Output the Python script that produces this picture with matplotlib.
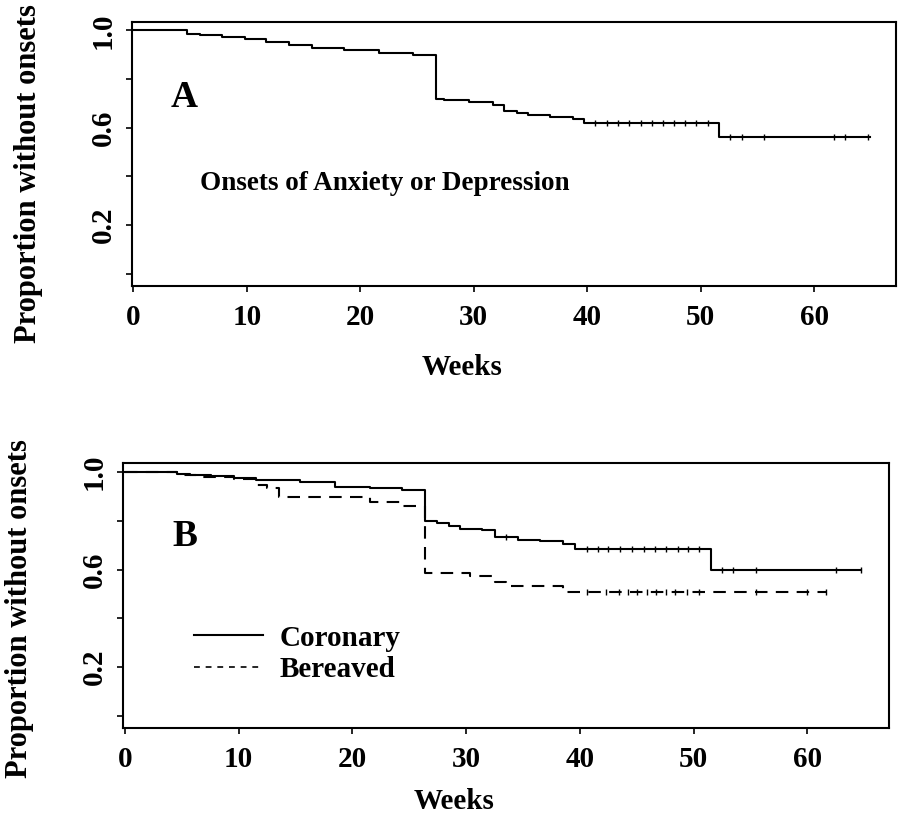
import matplotlib

matplotlib.use("Agg")
import matplotlib.pyplot as plt
import numpy as np
from matplotlib.lines import Line2D

# Panel A: onsets of anxiety or depression (all subjects)
weeks_a = [0, 4.7, 5.9, 7.8, 9.8, 11.7, 13.7, 15.7, 18.6, 21.6, 24.6, 26.65, 27.4,
           29.6, 31.7, 32.7, 33.8, 34.8, 36.7, 38.7, 39.7, 51.6, 64.9]
surv_a = [1.0, 0.986, 0.982, 0.975, 0.964, 0.951, 0.939, 0.930, 0.921, 0.908, 0.900,
          0.720, 0.716, 0.706, 0.693, 0.668, 0.659, 0.652, 0.645, 0.635, 0.620, 0.563, 0.563]
censor_a = [40.7, 41.7, 42.7, 43.7, 44.7, 45.7, 46.7, 47.6, 48.6, 49.6, 50.6,
            52.6, 53.6, 55.6, 61.7, 62.7, 64.7]

# Panel B: coronary vs bereaved
weeks_cor = [0, 4.6, 5.7, 7.6, 9.6, 11.5, 15.4, 18.5, 21.5, 24.4, 26.4, 27.4, 28.5,
             29.5, 31.4, 32.5, 34.6, 36.5, 38.5, 39.6, 51.5, 64.7]
surv_cor = [1.0, 0.992, 0.986, 0.982, 0.973, 0.967, 0.959, 0.940, 0.933, 0.926, 0.798,
            0.789, 0.780, 0.768, 0.762, 0.734, 0.723, 0.716, 0.705, 0.685, 0.597, 0.597]
censor_cor = [33.5, 40.6, 41.6, 42.5, 43.5, 44.6, 45.6, 46.6, 47.6, 48.6, 49.5, 50.5,
              52.5, 53.5, 55.5, 62.5, 64.7]

weeks_ber = [0, 4.6, 6.2, 9.6, 11.5, 12.5, 13.5, 21.5, 24.4, 26.4, 30.3, 32.5, 33.5,
             38.5, 61.7]
surv_ber = [1.0, 0.986, 0.978, 0.969, 0.948, 0.933, 0.895, 0.877, 0.860, 0.585, 0.572,
            0.550, 0.531, 0.508, 0.508]
censor_ber = [40.6, 42.3, 43.4, 44.2, 45.0, 45.9, 46.7, 47.6, 48.4, 49.4, 50.5,
              55.5, 60.0, 61.6]

x_ticks = [0, 10, 20, 30, 40, 50, 60]
y_ticks = [0.0, 0.2, 0.4, 0.6, 0.8, 1.0]
y_tick_labels = ["", "0.2", "", "0.6", "", "1.0"]

FONT = "Liberation Serif"
FS = 21
plt.rcParams.update({
    "font.family": FONT,
    "font.weight": "bold",
    "axes.linewidth": 1.5,
})


def step_value(times, values, t):
    idx = np.searchsorted(times, t, side="right") - 1
    return values[idx]


def draw_km(ax, times, values, censor, ls):
    ax.step(times, values, where="post", color="black", linewidth=1.5, linestyle=ls)
    cy = [step_value(np.array(times), values, t) for t in censor]
    ax.plot(censor, cy, linestyle="none", marker="|", markersize=4,
            markeredgewidth=1.0, color="black")


def style_axis(ax, xlabel_y, ylabel_y):
    ax.set_xlim(-0.15, 67.2)
    ax.set_ylim(-0.05, 1.035)
    ax.set_xticks(x_ticks)
    ax.set_xticklabels([str(v) for v in x_ticks], fontsize=FS, fontweight="bold")
    ax.set_yticks(y_ticks)
    ax.set_yticklabels(y_tick_labels, fontsize=FS, fontweight="bold",
                       rotation=90, va="center")
    ax.tick_params(axis="x", length=4, width=1.2, pad=9)
    ax.tick_params(axis="y", length=4, width=1.2, pad=7)
    ax.set_xlabel("Weeks", fontsize=FS, fontweight="bold", va="center")
    ax.set_ylabel("Proportion without onsets", fontsize=22, fontweight="bold",
                  va="center")
    ax.xaxis.set_label_coords(0.432, xlabel_y)
    ax.yaxis.set_label_coords(-0.135, ylabel_y)


fig = plt.figure(figsize=(9, 8.26), dpi=100)

ax_a = fig.add_axes([0.1463, 0.6538, 0.8493, 0.3196])
draw_km(ax_a, weeks_a, surv_a, censor_a, "-")
style_axis(ax_a, -0.31, 0.424)
ax_a.text(4.5, 0.725, "A", fontsize=27, fontweight="bold", ha="center", va="center")
ax_a.text(5.9, 0.37, "Onsets of Anxiety or Depression", fontsize=19.5,
          fontweight="bold", ha="left", va="center")

ax_b = fig.add_axes([0.137, 0.1183, 0.851, 0.3208])
draw_km(ax_b, weeks_cor, surv_cor, censor_cor, "-")
draw_km(ax_b, weeks_ber, surv_ber, censor_ber, (0, (6, 4)))
style_axis(ax_b, -0.275, 0.45)
ax_b.text(5.3, 0.735, "B", fontsize=27, fontweight="bold", ha="center", va="center")

handles = [
    Line2D([], [], color="black", linewidth=1.5, linestyle="-"),
    Line2D([], [], color="black", linewidth=1.2, linestyle=(0, (3.5, 3.5))),
]
ax_b.legend(handles, ["Coronary", "Bereaved"], loc="upper left",
            bbox_to_anchor=(0.058, 0.49), frameon=False, handlelength=2.35,
            handletextpad=0.6, labelspacing=0.16,
            prop={"family": FONT, "weight": "bold", "size": FS})

fig.savefig("out.png", dpi=100)
